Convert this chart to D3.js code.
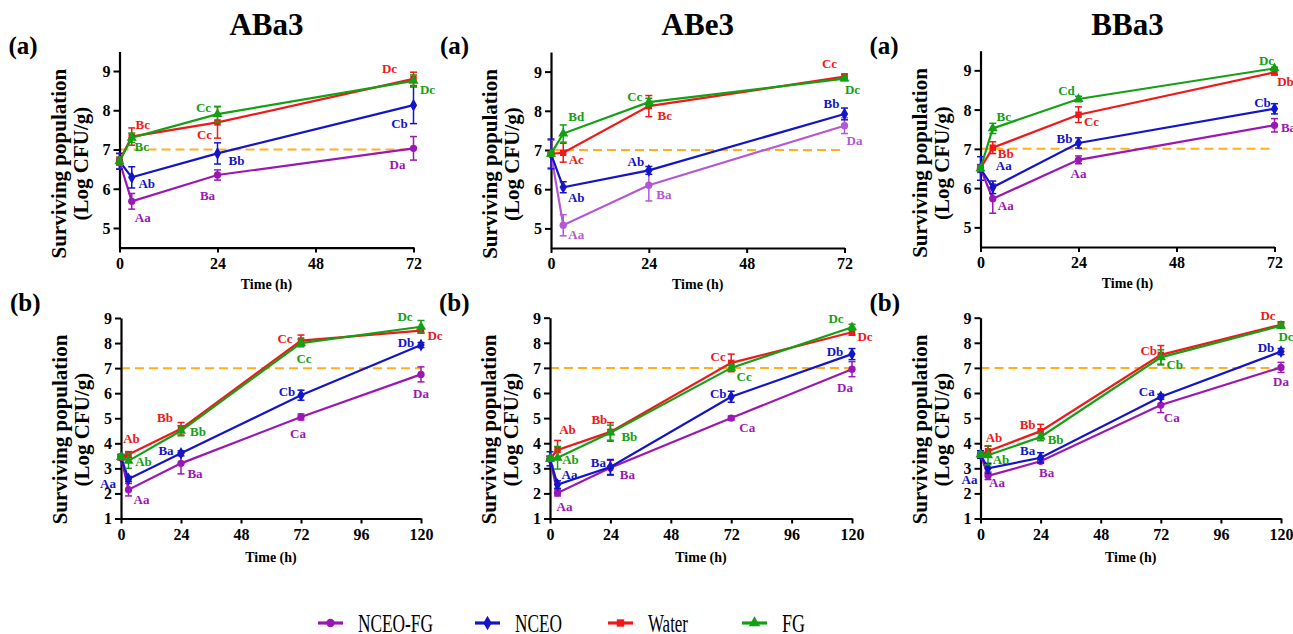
<!DOCTYPE html>
<html><head><meta charset="utf-8">
<script src="https://cdn.jsdelivr.net/npm/d3@7/dist/d3.min.js"></script>
<style>
html,body{margin:0;padding:0;background:#fff;}
svg{display:block;}
text{font-family:"Liberation Serif","Times New Roman","DejaVu Serif",serif;}
</style></head>
<body>
<svg id="chart" width="1293" height="634"></svg>
<script>
// ---------------- DATA ----------------
const seriesNames = ["NCEO-FG", "NCEO", "Water", "FG"];
const strains = ["ABa3", "ABe3", "BBa3"];
const timesA = [0, 3, 24, 72];
const timesB = [0, 3, 24, 72, 120];
const xTicksA = [0, 24, 48, 72];
const xTicksB = [0, 24, 48, 72, 96, 120];
const yTicksA = [5, 6, 7, 8, 9];
const yTicksB = [1, 2, 3, 4, 5, 6, 7, 8, 9];
const threshold = 7;

// Row (a): mean values [NCEO-FG, NCEO, Water, FG]
const meanA_ABa3 = [[6.7,5.68,6.35,7.03],[6.7,6.29,6.9,8.13],[6.7,7.33,7.69,8.8],[6.7,7.3,7.9,8.75]];
const errA_ABa3  = [[0.2,0.2,0.13,0.3],[0.2,0.27,0.27,0.47],[0.1,0.22,0.4,0.17],[0.1,0.12,0.2,0.15]];
const meanA_ABe3 = [[6.9,5.08,6.1,7.62],[6.9,6.05,6.48,7.92],[6.9,6.93,8.12,8.87],[6.9,7.42,8.22,8.82]];
const errA_ABe3  = [[0.35,0.27,0.4,0.2],[0.38,0.14,0.1,0.15],[0.05,0.24,0.27,0.07],[0.05,0.22,0.1,0.05]];
const meanA_BBa3 = [[6.5,5.73,6.72,7.6],[6.5,6.02,7.15,8.02],[6.5,7.03,7.87,8.95],[6.5,7.52,8.27,9.05]];
const errA_BBa3  = [[0.1,0.37,0.1,0.17],[0.3,0.16,0.13,0.13],[0.05,0.15,0.2,0.07],[0.05,0.13,0.07,0.03]];

// Row (b)
const meanB_ABa3 = [[3.45,2.15,3.2,5.05,6.75],[3.45,2.58,3.6,5.92,7.92],[3.45,3.55,4.58,8.1,8.5],[3.45,3.3,4.5,8.0,8.65]];
const errB_ABa3  = [[0.1,0.25,0.42,0.12,0.3],[0.1,0.1,0.1,0.2,0.1],[0.1,0.12,0.25,0.22,0.1],[0.1,0.3,0.2,0.15,0.25]];
const meanB_ABe3 = [[3.38,2.02,3.02,5.0,6.95],[3.38,2.35,3.05,5.85,7.55],[3.38,3.73,4.45,7.2,8.42],[3.38,3.42,4.42,7.0,8.62]];
const errB_ABe3  = [[0.1,0.12,0.3,0.08,0.3],[0.28,0.15,0.3,0.22,0.22],[0.1,0.38,0.37,0.35,0.12],[0.1,0.45,0.3,0.12,0.12]];
const meanB_BBa3 = [[3.55,2.7,3.28,5.52,7.02],[3.55,3.0,3.42,5.85,7.65],[3.55,3.68,4.48,7.52,8.72],[3.55,3.52,4.25,7.42,8.68]];
const errB_BBa3  = [[0.1,0.15,0.07,0.3,0.2],[0.15,0.2,0.2,0.1,0.12],[0.1,0.2,0.27,0.37,0.12],[0.1,0.38,0.15,0.3,0.1]];

// Significance letters (null = none)
const lettersA_ABa3 = [[null,"Aa","Ba","Da"],[null,"Ab","Bb","Cb"],[null,"Bc","Cc","Dc"],[null,"Bc","Cc","Dc"]];
const lettersA_ABe3 = [[null,"Aa","Ba","Da"],[null,"Ab","Ab","Bb"],[null,"Ac","Bc","Cc"],[null,"Bd","Cc","Dc"]];
const lettersA_BBa3 = [[null,"Aa","Aa","Ba"],[null,"Aa","Bb","Cb"],[null,"Bb","Cc","Db"],[null,"Bc","Cd","Dc"]];
const lettersB_ABa3 = [[null,"Aa","Ba","Ca","Da"],["Aa",null,"Ba","Cb","Db"],[null,"Ab","Bb","Cc","Dc"],[null,"Ab","Bb","Cc","Dc"]];
const lettersB_ABe3 = [[null,"Aa","Ba","Ca","Da"],[null,"Aa","Ba","Cb","Db"],[null,"Ab","Bb","Cc","Dc"],[null,"Ab","Bb","Cc","Dc"]];
const lettersB_BBa3 = [[null,"Aa","Ba","Ca","Da"],["Aa",null,"Ba","Ca","Db"],[null,"Ab","Bb","Cb","Dc"],[null,"Ab","Bb","Cb","Dc"]];

// ---------------- LAYOUT / STYLE ----------------
const colors = ["#9b17b4", "#1414c8", "#f01818", "#14a014"];
const symbols = [d3.symbolCircle, d3.symbolDiamond, d3.symbolSquare, d3.symbolTriangle];
const symSize = [42, 46, 42, 44];

// label nudges [dx, dy] per panel / series / point
const nudgeA_ABa3 = [[null,[11,16],[-10,20],[-16,16]],[null,[15,6],[19,7],[-14,18]],[null,[11,-12],[-13,12],[-24,-10]],[null,[10,9],[-14,-7],[14,9]]];
const nudgeA_ABe3 = [[null,[13,9],[15,9],[10,15]],[null,[13,10],[-13,-9],[-13,-10]],[null,[13,7],[16,9],[-15,-13]],[null,[13,-17],[-14,-6],[8,11]]];
const nudgeA_BBa3 = [[null,[13,7],[0,14],[14,2]],[null,[11,-22],[-14,-4],[-12,-6]],[null,[13,6],[13,7],[11,9]],[null,[11,-12],[-12,-8],[-8,-8]]];
const nudgeB_ABa3 = [[null,[13,10],[14,10],[-3,17],[0,19]],[[-13,26],null,[-15,-3],[-14,-4],[-15,-3]],[null,[3,-16],[-16,-11],[-16,-2],[14,5]],[null,[15,1],[17,1],[3,15],[-16,-10]]];
const nudgeB_ABe3 = [[null,[7,14],[17,7],[16,9],[-7,18]],[null,[12,-10],[-12,-5],[-13,-3],[-17,-3]],[null,[10,-20],[-11,-12],[-13,-6],[13,4]],[null,[13,2],[19,4],[13,9],[-16,-9]]];
const nudgeB_BBa3 = [[null,[9,7],[6,11],[11,12],[0,14]],[[-11,25],null,[-13,-7],[-14,-5],[-15,-4]],[null,[6,-14],[-13,-7],[-12,-4],[-13,-9]],[null,[13,4],[15,3],[14,7],[5,11]]];

const panels = [
  {row:"a", strain:0, times:timesA, xt:xTicksA, yt:yTicksA, xmax:72, ydom:[4.5,9.5], mean:meanA_ABa3, err:errA_ABa3, lab:lettersA_ABa3, nud:nudgeA_ABa3, left:119.5, width:294, top:51.4, bottom:247.6},
  {row:"a", strain:1, times:timesA, xt:xTicksA, yt:yTicksA, xmax:72, ydom:[4.5,9.5], mean:meanA_ABe3, err:errA_ABe3, lab:lettersA_ABe3, nud:nudgeA_ABe3, left:551, width:293.5, top:52, bottom:248, purple:"#b457d4"},
  {row:"a", strain:2, times:timesA, xt:xTicksA, yt:yTicksA, xmax:72, ydom:[4.5,9.5], mean:meanA_BBa3, err:errA_BBa3, lab:lettersA_BBa3, nud:nudgeA_BBa3, left:980.5, width:294, top:50.7, bottom:247},
  {row:"b", strain:0, times:timesB, xt:xTicksB, yt:yTicksB, xmax:120, ydom:[1,9], mean:meanB_ABa3, err:errB_ABa3, lab:lettersB_ABa3, nud:nudgeB_ABa3, left:121, width:300, top:318, bottom:518.5},
  {row:"b", strain:1, times:timesB, xt:xTicksB, yt:yTicksB, xmax:120, ydom:[1,9], mean:meanB_ABe3, err:errB_ABe3, lab:lettersB_ABe3, nud:nudgeB_ABe3, left:550, width:302, top:317.7, bottom:518.5},
  {row:"b", strain:2, times:timesB, xt:xTicksB, yt:yTicksB, xmax:120, ydom:[1,9], mean:meanB_BBa3, err:errB_BBa3, lab:lettersB_BBa3, nud:nudgeB_BBa3, left:980.5, width:300.5, top:317.7, bottom:518.5}
];

const svg = d3.select("#chart");
const SERIF = "Liberation Serif, Times New Roman, DejaVu Serif, serif";

panels.forEach(p => {
  const x = d3.scaleLinear().domain([0, p.xmax]).range([p.left, p.left + p.width]);
  const y = d3.scaleLinear().domain(p.ydom).range([p.bottom, p.top]);
  const g = svg.append("g");
  const cols = colors.slice();
  if (p.purple) cols[0] = p.purple;

  if (p.row === "a") {
    g.append("text").attr("x", p.left + p.width/2).attr("y", 35)
      .attr("text-anchor","middle").attr("font-weight","bold").attr("font-size",31)
      .text(strains[p.strain]);
  }
  g.append("text").attr("x", p.left - 111).attr("y", p.row === "a" ? 54 : 311)
    .attr("font-weight","bold").attr("font-size",25).text("(" + p.row + ")");

  g.append("line").attr("x1", x(0)).attr("x2", x(p.xmax))
    .attr("y1", y(threshold)).attr("y2", y(threshold))
    .attr("stroke","#ffb01f").attr("stroke-width",2).attr("stroke-dasharray","9,5");

  const ax = g.append("g").attr("transform", `translate(0,${p.bottom})`)
    .call(d3.axisBottom(x).tickValues(p.xt).tickSizeOuter(0).tickSizeInner(5).tickPadding(5).tickFormat(d3.format("d")));
  const ay = g.append("g").attr("transform", `translate(${p.left},0)`)
    .call(d3.axisLeft(y).tickValues(p.yt).tickSizeOuter(0).tickSizeInner(6).tickPadding(3).tickFormat(d3.format("d")));
  [ax, ay].forEach(a => {
    a.attr("font-family", SERIF);
    a.select(".domain").attr("stroke","#000").attr("stroke-width",2.2);
    a.selectAll(".tick line").attr("stroke","#000").attr("stroke-width",2);
    a.selectAll(".tick text").style("font-family", SERIF)
      .attr("font-weight","bold").attr("font-size",16).attr("fill","#000");
  });
  ay.selectAll(".tick text").attr("dy","0.34em");

  g.append("text").attr("x", p.left + p.width/2).attr("y", p.bottom + (p.row === "a" ? 41 : 43))
    .attr("text-anchor","middle").attr("font-weight","bold").attr("font-size",14).text("Time (h)");

  const cy = p.bottom - (p.row === "a" ? 84 : 89);
  const yl = g.append("text").attr("transform", `translate(${p.left - 54},${cy}) rotate(-90)`)
    .attr("text-anchor","middle").attr("font-weight","bold").attr("font-size",21);
  yl.append("tspan").attr("x",0).attr("y",0).text("Surviving population");
  yl.append("tspan").attr("x",0).attr("y",22).text("(Log CFU/g)");

  seriesNames.forEach((name, si) => {
    const pts = p.times.map((t, i) => ({t, v: p.mean[si][i], e: p.err[si][i], lab: p.lab[si][i], nud: p.nud[si][i]}));
    const sg = g.append("g");
    pts.forEach(d => {
      const cx = x(d.t);
      sg.append("line").attr("x1",cx).attr("x2",cx).attr("y1",y(d.v - d.e)).attr("y2",y(d.v + d.e))
        .attr("stroke",cols[si]).attr("stroke-width",1.5);
      [d.v - d.e, d.v + d.e].forEach(vv => {
        sg.append("line").attr("x1",cx-3.5).attr("x2",cx+3.5).attr("y1",y(vv)).attr("y2",y(vv))
          .attr("stroke",cols[si]).attr("stroke-width",1.5);
      });
    });
    sg.append("path").datum(pts)
      .attr("d", d3.line().x(d => x(d.t)).y(d => y(d.v)))
      .attr("fill","none").attr("stroke",cols[si]).attr("stroke-width",2.2);
    sg.selectAll("path.m").data(pts).enter().append("path").attr("class","m")
      .attr("d", d3.symbol().type(symbols[si]).size(symSize[si]))
      .attr("transform", d => `translate(${x(d.t)},${y(d.v)})`)
      .attr("fill", cols[si]);
    pts.filter(d => d.lab).forEach(d => {
      sg.append("text").attr("x", x(d.t) + d.nud[0]).attr("y", y(d.v) + d.nud[1])
        .attr("text-anchor","middle").attr("dominant-baseline","central")
        .attr("font-weight","bold").attr("font-size",13).attr("fill",cols[si]).text(d.lab);
    });
  });
});

// ---------------- LEGEND ----------------
const legX = [318, 475, 608, 742];
const legW = [75, 47, 40, 23];
const legY = 623;
seriesNames.forEach((name, si) => {
  const lg = svg.append("g");
  lg.append("line").attr("x1", legX[si]).attr("x2", legX[si] + 25).attr("y1", legY).attr("y2", legY)
    .attr("stroke", colors[si]).attr("stroke-width", 3.2);
  lg.append("path").attr("d", d3.symbol().type(symbols[si]).size(symSize[si] * 1.3))
    .attr("transform", `translate(${legX[si] + 12.5},${legY})`).attr("fill", colors[si]);
  lg.append("text").attr("x", legX[si] + 40).attr("y", legY + 8.5)
    .attr("textLength", legW[si]).attr("lengthAdjust","spacingAndGlyphs")
    .attr("font-size", 25).attr("fill","#000").text(name);
});
</script>
</body></html>
